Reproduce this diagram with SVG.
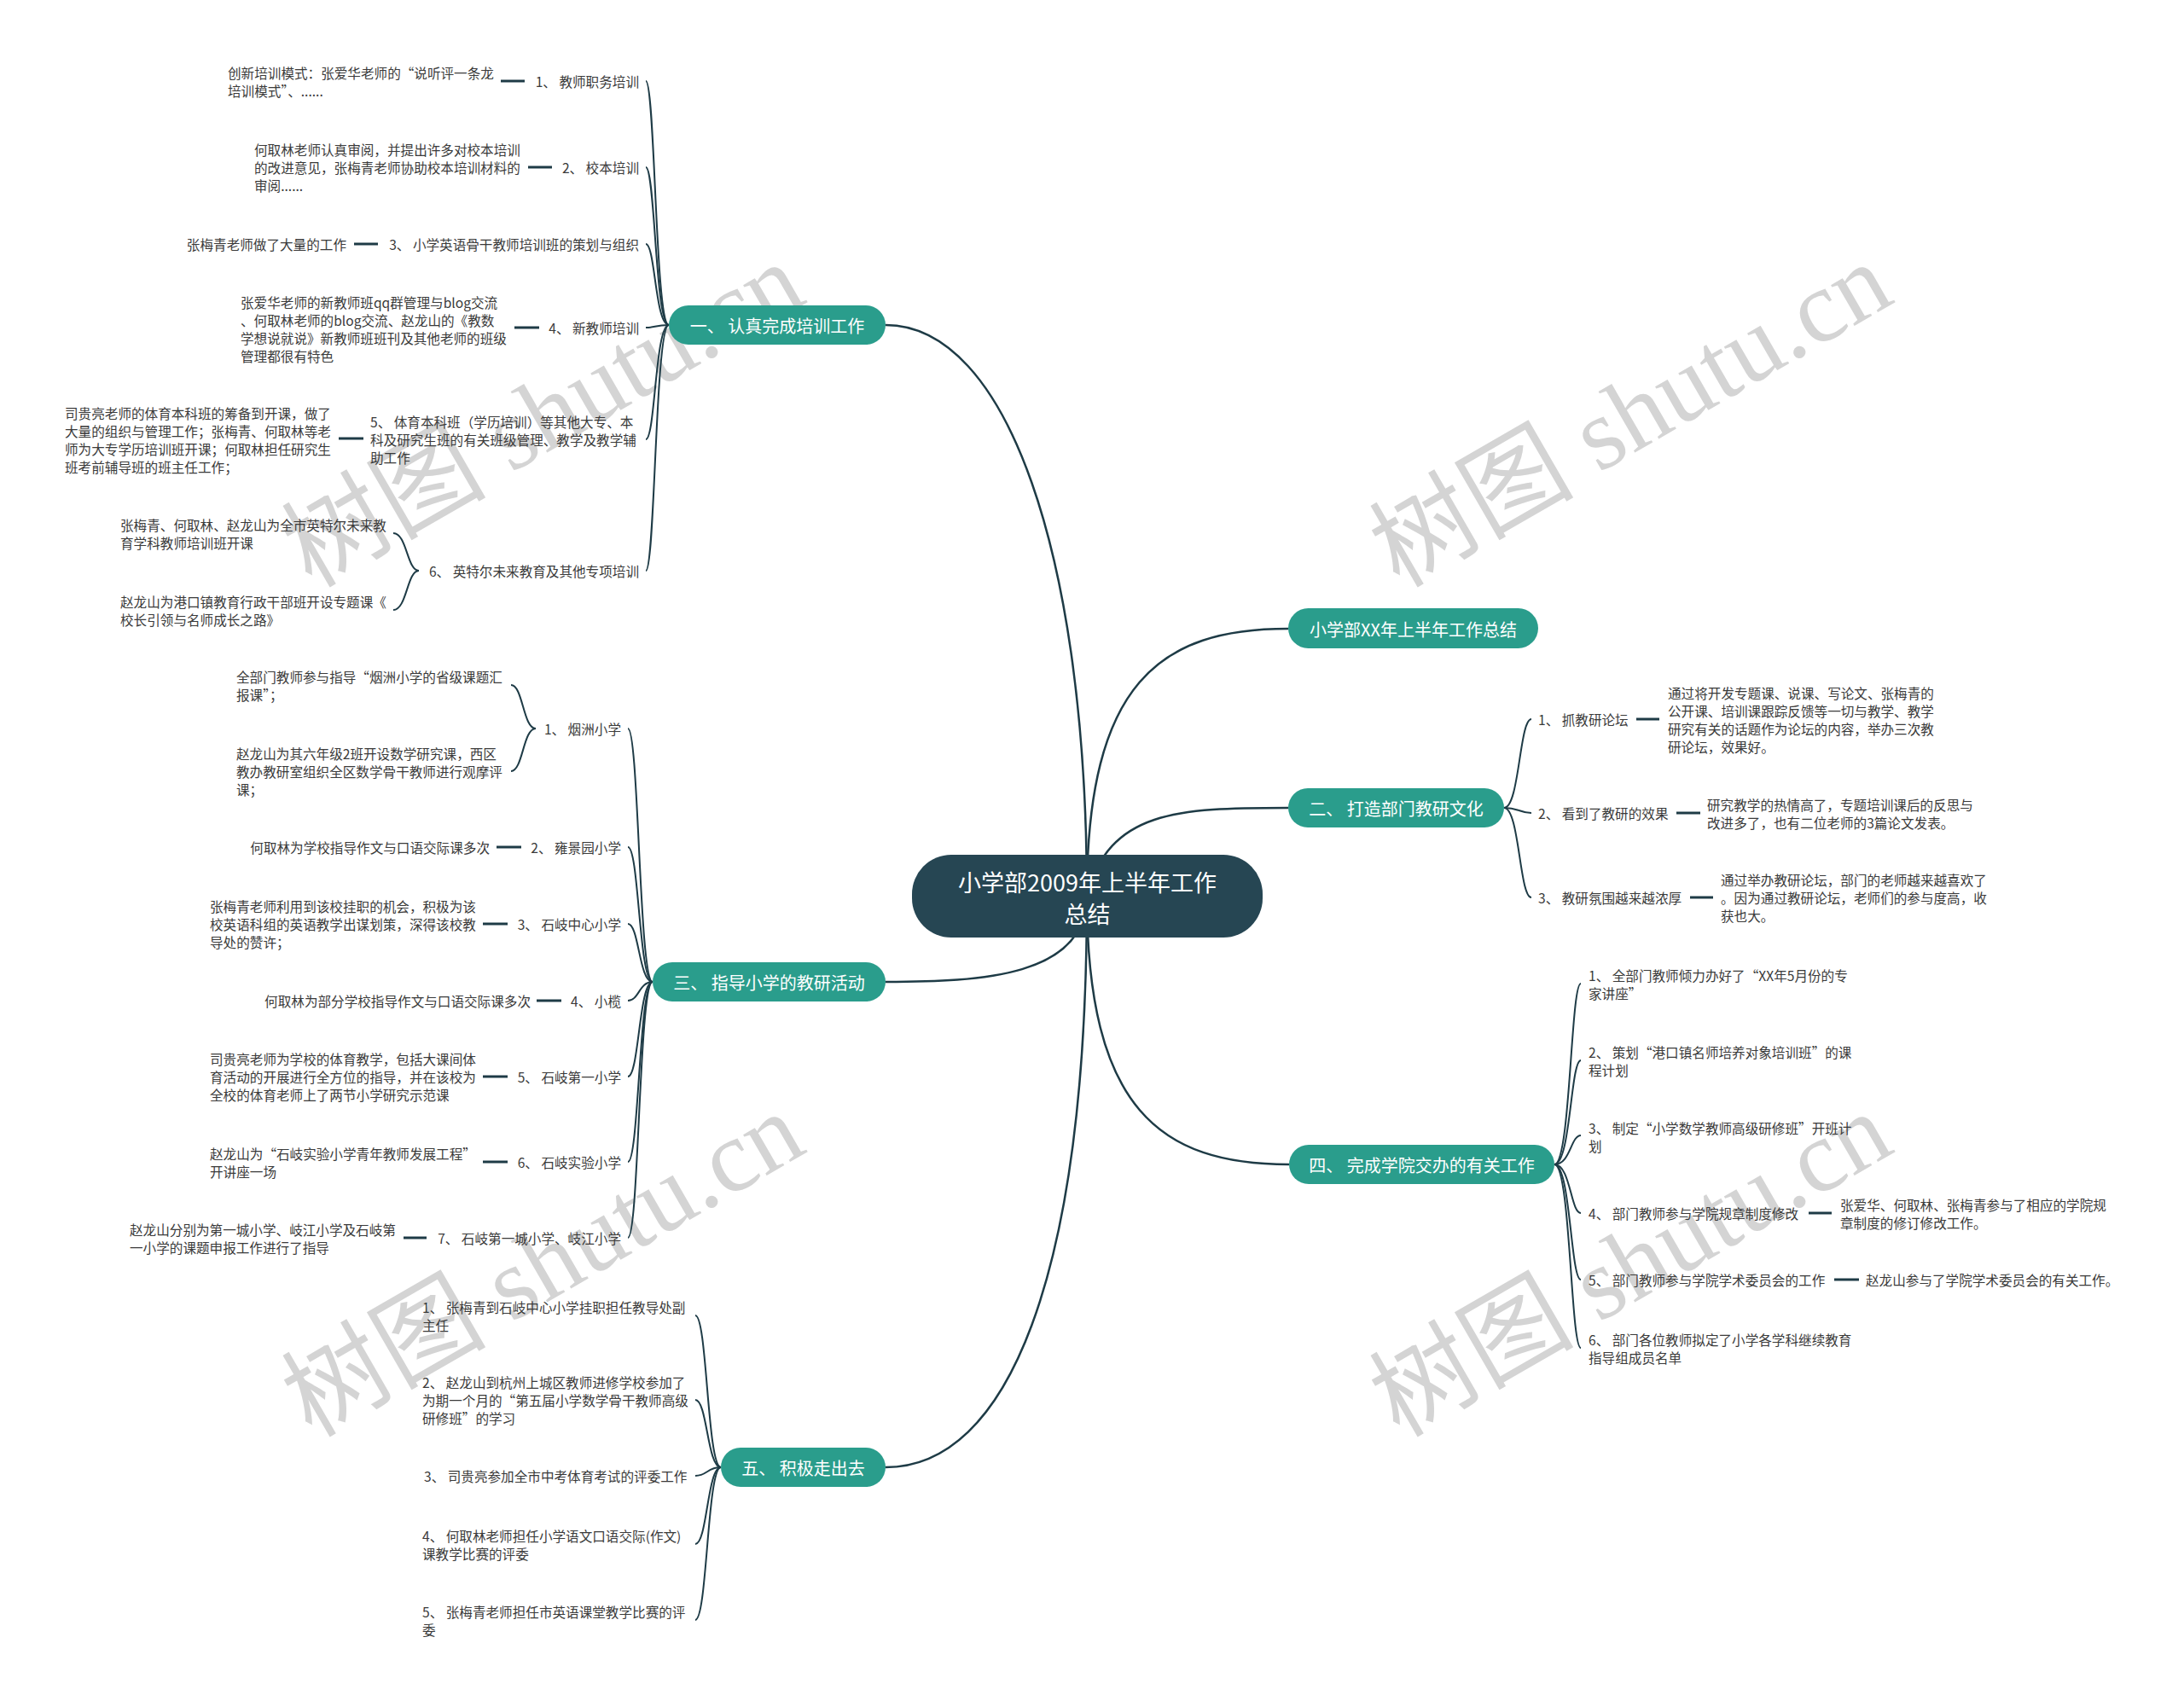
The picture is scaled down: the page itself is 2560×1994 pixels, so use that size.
<svg xmlns="http://www.w3.org/2000/svg" width="2560" height="1994" viewBox="0 0 2560 1994">
<style>
.wm{font-family:"Liberation Serif","Noto Sans CJK SC",serif;font-size:120px;fill:#d4d4d4}
.lnk{fill:none;stroke:#1e3b46;stroke-width:2}
.main{fill:none;stroke:#1e3b46;stroke-width:2.5}
.dash{stroke:#1e3b46;stroke-width:3}
.t{font-family:"Noto Sans CJK SC","Liberation Sans",sans-serif;font-size:15.6px;fill:#3a3a3a;dominant-baseline:central}
.e{text-anchor:end}
.br{fill:#2a9d8c}
.bt{font-family:"Noto Sans CJK SC","Liberation Sans",sans-serif;font-size:20px;fill:#ffffff;text-anchor:middle;dominant-baseline:central}
.rt{font-family:"Noto Sans CJK SC","Liberation Sans",sans-serif;font-size:27px;fill:#ffffff;text-anchor:middle;dominant-baseline:central}
</style>
<rect width="2560" height="1994" fill="#ffffff"/>
<g id="watermarks">
<text class="wm" transform="translate(365,690) rotate(-30)">树图 shutu.cn</text>
<text class="wm" transform="translate(1640,690) rotate(-30)">树图 shutu.cn</text>
<text class="wm" transform="translate(365,1686) rotate(-30)">树图 shutu.cn</text>
<text class="wm" transform="translate(1640,1686) rotate(-30)">树图 shutu.cn</text>
</g>
<g id="connectors">
<path class="main" d="M1274,1050 C1274,650 1180,381 1038,381"/>
<path class="main" d="M1274,1050 C1274,1145 1150,1151 1038,1151"/>
<path class="main" d="M1274,1050 C1274,1500 1180,1720 1038,1720"/>
<path class="main" d="M1274,1050 C1274,800 1360,737 1510,737"/>
<path class="main" d="M1274,1050 C1300,950 1380,947 1510,947"/>
<path class="main" d="M1274,1050 C1274,1300 1360,1365 1511,1365"/>
<!-- branch 1 -->
<path class="lnk" d="M784,381 C768,381 768,95 757,95"/>
<path class="lnk" d="M784,381 C768,381 768,196 757,196"/>
<path class="lnk" d="M784,381 C768,381 768,286 757,286"/>
<path class="lnk" d="M784,381 C768,381 768,384 757,384"/>
<path class="lnk" d="M784,381 C768,381 768,515 757,515"/>
<path class="lnk" d="M784,381 C768,381 768,669 757,669"/>
<path class="lnk" d="M491,669 C477,669 477,625 461,625"/>
<path class="lnk" d="M491,669 C477,669 477,715 461,715"/>
<line class="dash" x1="587" y1="95" x2="615" y2="95"/>
<line class="dash" x1="619" y1="196" x2="647" y2="196"/>
<line class="dash" x1="415" y1="286" x2="443" y2="286"/>
<line class="dash" x1="603" y1="384" x2="632" y2="384"/>
<line class="dash" x1="397" y1="514" x2="426" y2="514"/>
<!-- branch 3 -->
<path class="lnk" d="M765,1151 C749,1151 749,854 736,854"/>
<path class="lnk" d="M765,1151 C749,1151 749,993 736,993"/>
<path class="lnk" d="M765,1151 C749,1151 749,1083 736,1083"/>
<path class="lnk" d="M765,1151 C749,1151 749,1173 736,1173"/>
<path class="lnk" d="M765,1151 C749,1151 749,1262 736,1262"/>
<path class="lnk" d="M765,1151 C749,1151 749,1362 736,1362"/>
<path class="lnk" d="M765,1151 C749,1151 749,1451 736,1451"/>
<path class="lnk" d="M628,854 C613,854 613,803 599,803"/>
<path class="lnk" d="M628,854 C613,854 613,904 599,904"/>
<line class="dash" x1="582" y1="993" x2="611" y2="993"/>
<line class="dash" x1="566" y1="1083" x2="595" y2="1083"/>
<line class="dash" x1="629" y1="1173" x2="658" y2="1173"/>
<line class="dash" x1="566" y1="1262" x2="595" y2="1262"/>
<line class="dash" x1="566" y1="1362" x2="595" y2="1362"/>
<line class="dash" x1="473" y1="1451" x2="500" y2="1451"/>
<!-- branch 5 -->
<path class="lnk" d="M845,1720 C829,1720 829,1542 815,1542"/>
<path class="lnk" d="M845,1720 C829,1720 829,1641 815,1641"/>
<path class="lnk" d="M845,1720 C829,1720 829,1730 815,1730"/>
<path class="lnk" d="M845,1720 C829,1720 829,1810 815,1810"/>
<path class="lnk" d="M845,1720 C829,1720 829,1899 815,1899"/>
<!-- branch 2 -->
<path class="lnk" d="M1763,947 C1781,947 1781,843 1795,843"/>
<path class="lnk" d="M1763,947 C1781,947 1781,953 1795,953"/>
<path class="lnk" d="M1763,947 C1781,947 1781,1052 1795,1052"/>
<line class="dash" x1="1918" y1="843" x2="1945" y2="843"/>
<line class="dash" x1="1965" y1="953" x2="1993" y2="953"/>
<line class="dash" x1="1981" y1="1052" x2="2008" y2="1052"/>
<!-- branch 4 -->
<path class="lnk" d="M1822,1365 C1841,1365 1841,1153 1853,1153"/>
<path class="lnk" d="M1822,1365 C1841,1365 1841,1243 1853,1243"/>
<path class="lnk" d="M1822,1365 C1841,1365 1841,1331 1853,1331"/>
<path class="lnk" d="M1822,1365 C1841,1365 1841,1422 1853,1422"/>
<path class="lnk" d="M1822,1365 C1841,1365 1841,1500 1853,1500"/>
<path class="lnk" d="M1822,1365 C1841,1365 1841,1580 1853,1580"/>
<line class="dash" x1="2120" y1="1422" x2="2147" y2="1422"/>
<line class="dash" x1="2150" y1="1500" x2="2179" y2="1500"/>
</g>
<g id="root">
<rect x="1069" y="1002" width="411" height="97" rx="46" fill="#264653"/>
<text class="rt" x="1274.5" y="1033">小学部2009年上半年工作</text>
<text class="rt" x="1274.5" y="1070">总结</text>
</g>
<g id="b1">
<rect class="br" x="784" y="358" width="254" height="46" rx="23"/>
<text class="bt" x="911" y="381">一、 认真完成培训工作</text>
</g>
<g id="b1-1">
<text class="t e" x="749" y="95">1、 教师职务培训</text>
<text class="t" x="267" y="84.5">创新培训模式：张爱华老师的“说听评一条龙</text>
<text class="t" x="267" y="105.5">培训模式”、......</text>
</g>
<g id="b1-2">
<text class="t e" x="749" y="196">2、 校本培训</text>
<text class="t" x="298" y="175">何取林老师认真审阅，并提出许多对校本培训</text>
<text class="t" x="298" y="196">的改进意见，张梅青老师协助校本培训材料的</text>
<text class="t" x="298" y="217">审阅......</text>
</g>
<g id="b1-3">
<text class="t e" x="749" y="286">3、 小学英语骨干教师培训班的策划与组织</text>
<text class="t e" x="406" y="286">张梅青老师做了大量的工作</text>
</g>
<g id="b1-4">
<text class="t e" x="749" y="384">4、 新教师培训</text>
<text class="t" x="282" y="353.5">张爱华老师的新教师班qq群管理与blog交流</text>
<text class="t" x="282" y="374.5">、何取林老师的blog交流、赵龙山的《教数</text>
<text class="t" x="282" y="395.5">学想说就说》新教师班班刊及其他老师的班级</text>
<text class="t" x="282" y="416.5">管理都很有特色</text>
</g>
<g id="b1-5">
<text class="t" x="434" y="494">5、 体育本科班（学历培训）等其他大专、本</text>
<text class="t" x="434" y="515">科及研究生班的有关班级管理、教学及教学辅</text>
<text class="t" x="434" y="536">助工作</text>
<text class="t" x="76" y="483.5">司贵亮老师的体育本科班的筹备到开课，做了</text>
<text class="t" x="76" y="504.5">大量的组织与管理工作；张梅青、何取林等老</text>
<text class="t" x="76" y="525.5">师为大专学历培训班开课；何取林担任研究生</text>
<text class="t" x="76" y="546.5">班考前辅导班的班主任工作；</text>
</g>
<g id="b1-6">
<text class="t e" x="749" y="669">6、 英特尔未来教育及其他专项培训</text>
<text class="t" x="141" y="614.5">张梅青、何取林、赵龙山为全市英特尔未来教</text>
<text class="t" x="141" y="635.5">育学科教师培训班开课</text>
<text class="t" x="141" y="704.5">赵龙山为港口镇教育行政干部班开设专题课《</text>
<text class="t" x="141" y="725.5">校长引领与名师成长之路》</text>
</g>
<g id="b3">
<rect class="br" x="765" y="1128" width="273" height="46" rx="23"/>
<text class="bt" x="901.5" y="1151">三、 指导小学的教研活动</text>
</g>
<g id="b3-1">
<text class="t e" x="728" y="854">1、 烟洲小学</text>
<text class="t" x="277" y="793">全部门教师参与指导“烟洲小学的省级课题汇</text>
<text class="t" x="277" y="814">报课”；</text>
<text class="t" x="277" y="883">赵龙山为其六年级2班开设数学研究课，西区</text>
<text class="t" x="277" y="904">教办教研室组织全区数学骨干教师进行观摩评</text>
<text class="t" x="277" y="925">课；</text>
</g>
<g id="b3-2">
<text class="t e" x="728" y="993">2、 雍景园小学</text>
<text class="t e" x="574" y="993">何取林为学校指导作文与口语交际课多次</text>
</g>
<g id="b3-3">
<text class="t e" x="728" y="1083">3、 石岐中心小学</text>
<text class="t" x="246" y="1062">张梅青老师利用到该校挂职的机会，积极为该</text>
<text class="t" x="246" y="1083">校英语科组的英语教学出谋划策，深得该校教</text>
<text class="t" x="246" y="1104">导处的赞许；</text>
</g>
<g id="b3-4">
<text class="t e" x="728" y="1173">4、 小榄</text>
<text class="t e" x="622" y="1173">何取林为部分学校指导作文与口语交际课多次</text>
</g>
<g id="b3-5">
<text class="t e" x="728" y="1262">5、 石岐第一小学</text>
<text class="t" x="246" y="1241">司贵亮老师为学校的体育教学，包括大课间体</text>
<text class="t" x="246" y="1262">育活动的开展进行全方位的指导，并在该校为</text>
<text class="t" x="246" y="1283">全校的体育老师上了两节小学研究示范课</text>
</g>
<g id="b3-6">
<text class="t e" x="728" y="1362">6、 石岐实验小学</text>
<text class="t" x="246" y="1351.5">赵龙山为“石岐实验小学青年教师发展工程”</text>
<text class="t" x="246" y="1372.5">开讲座一场</text>
</g>
<g id="b3-7">
<text class="t e" x="728" y="1451">7、 石岐第一城小学、岐江小学</text>
<text class="t" x="152" y="1440.5">赵龙山分别为第一城小学、岐江小学及石岐第</text>
<text class="t" x="152" y="1461.5">一小学的课题申报工作进行了指导</text>
</g>
<g id="b5">
<rect class="br" x="845" y="1697" width="193" height="46" rx="23"/>
<text class="bt" x="941.5" y="1720">五、 积极走出去</text>
</g>
<g id="b5-1">
<text class="t" x="495" y="1531.5">1、 张梅青到石岐中心小学挂职担任教导处副</text>
<text class="t" x="495" y="1552.5">主任</text>
</g>
<g id="b5-2">
<text class="t" x="495" y="1620">2、 赵龙山到杭州上城区教师进修学校参加了</text>
<text class="t" x="495" y="1641">为期一个月的“第五届小学数学骨干教师高级</text>
<text class="t" x="495" y="1662">研修班”的学习</text>
</g>
<g id="b5-3">
<text class="t" x="497" y="1730">3、 司贵亮参加全市中考体育考试的评委工作</text>
</g>
<g id="b5-4">
<text class="t" x="495" y="1799.5">4、 何取林老师担任小学语文口语交际(作文)</text>
<text class="t" x="495" y="1820.5">课教学比赛的评委</text>
</g>
<g id="b5-5">
<text class="t" x="495" y="1888.5">5、 张梅青老师担任市英语课堂教学比赛的评</text>
<text class="t" x="495" y="1909.5">委</text>
</g>
<g id="b0">
<rect class="br" x="1510" y="713" width="293" height="47" rx="23.5"/>
<text class="bt" x="1656.5" y="737">小学部XX年上半年工作总结</text>
</g>
<g id="b2">
<rect class="br" x="1510" y="924" width="253" height="46" rx="23"/>
<text class="bt" x="1636.5" y="947">二、 打造部门教研文化</text>
</g>
<g id="b2-1">
<text class="t" x="1803" y="843">1、 抓教研论坛</text>
<text class="t" x="1955" y="811.5">通过将开发专题课、说课、写论文、张梅青的</text>
<text class="t" x="1955" y="832.5">公开课、培训课跟踪反馈等一切与教学、教学</text>
<text class="t" x="1955" y="853.5">研究有关的话题作为论坛的内容，举办三次教</text>
<text class="t" x="1955" y="874.5">研论坛，效果好。</text>
</g>
<g id="b2-2">
<text class="t" x="1803" y="953">2、 看到了教研的效果</text>
<text class="t" x="2001" y="942.5">研究教学的热情高了，专题培训课后的反思与</text>
<text class="t" x="2001" y="963.5">改进多了，也有二位老师的3篇论文发表。</text>
</g>
<g id="b2-3">
<text class="t" x="1803" y="1052">3、 教研氛围越来越浓厚</text>
<text class="t" x="2017" y="1031">通过举办教研论坛，部门的老师越来越喜欢了</text>
<text class="t" x="2017" y="1052">。因为通过教研论坛，老师们的参与度高，收</text>
<text class="t" x="2017" y="1073">获也大。</text>
</g>
<g id="b4">
<rect class="br" x="1511" y="1342" width="311" height="46" rx="23"/>
<text class="bt" x="1666.5" y="1365">四、 完成学院交办的有关工作</text>
</g>
<g id="b4-1">
<text class="t" x="1862" y="1142.5">1、 全部门教师倾力办好了“XX年5月份的专</text>
<text class="t" x="1862" y="1163.5">家讲座”</text>
</g>
<g id="b4-2">
<text class="t" x="1862" y="1232.5">2、 策划“港口镇名师培养对象培训班”的课</text>
<text class="t" x="1862" y="1253.5">程计划</text>
</g>
<g id="b4-3">
<text class="t" x="1862" y="1321.5">3、 制定“小学数学教师高级研修班”开班计</text>
<text class="t" x="1862" y="1342.5">划</text>
</g>
<g id="b4-4">
<text class="t" x="1862" y="1422">4、 部门教师参与学院规章制度修改</text>
<text class="t" x="2157" y="1411.5">张爱华、何取林、张梅青参与了相应的学院规</text>
<text class="t" x="2157" y="1432.5">章制度的修订修改工作。</text>
</g>
<g id="b4-5">
<text class="t" x="1862" y="1500">5、 部门教师参与学院学术委员会的工作</text>
<text class="t" x="2187" y="1500">赵龙山参与了学院学术委员会的有关工作。</text>
</g>
<g id="b4-6">
<text class="t" x="1862" y="1569.5">6、 部门各位教师拟定了小学各学科继续教育</text>
<text class="t" x="1862" y="1590.5">指导组成员名单</text>
</g>
</svg>
